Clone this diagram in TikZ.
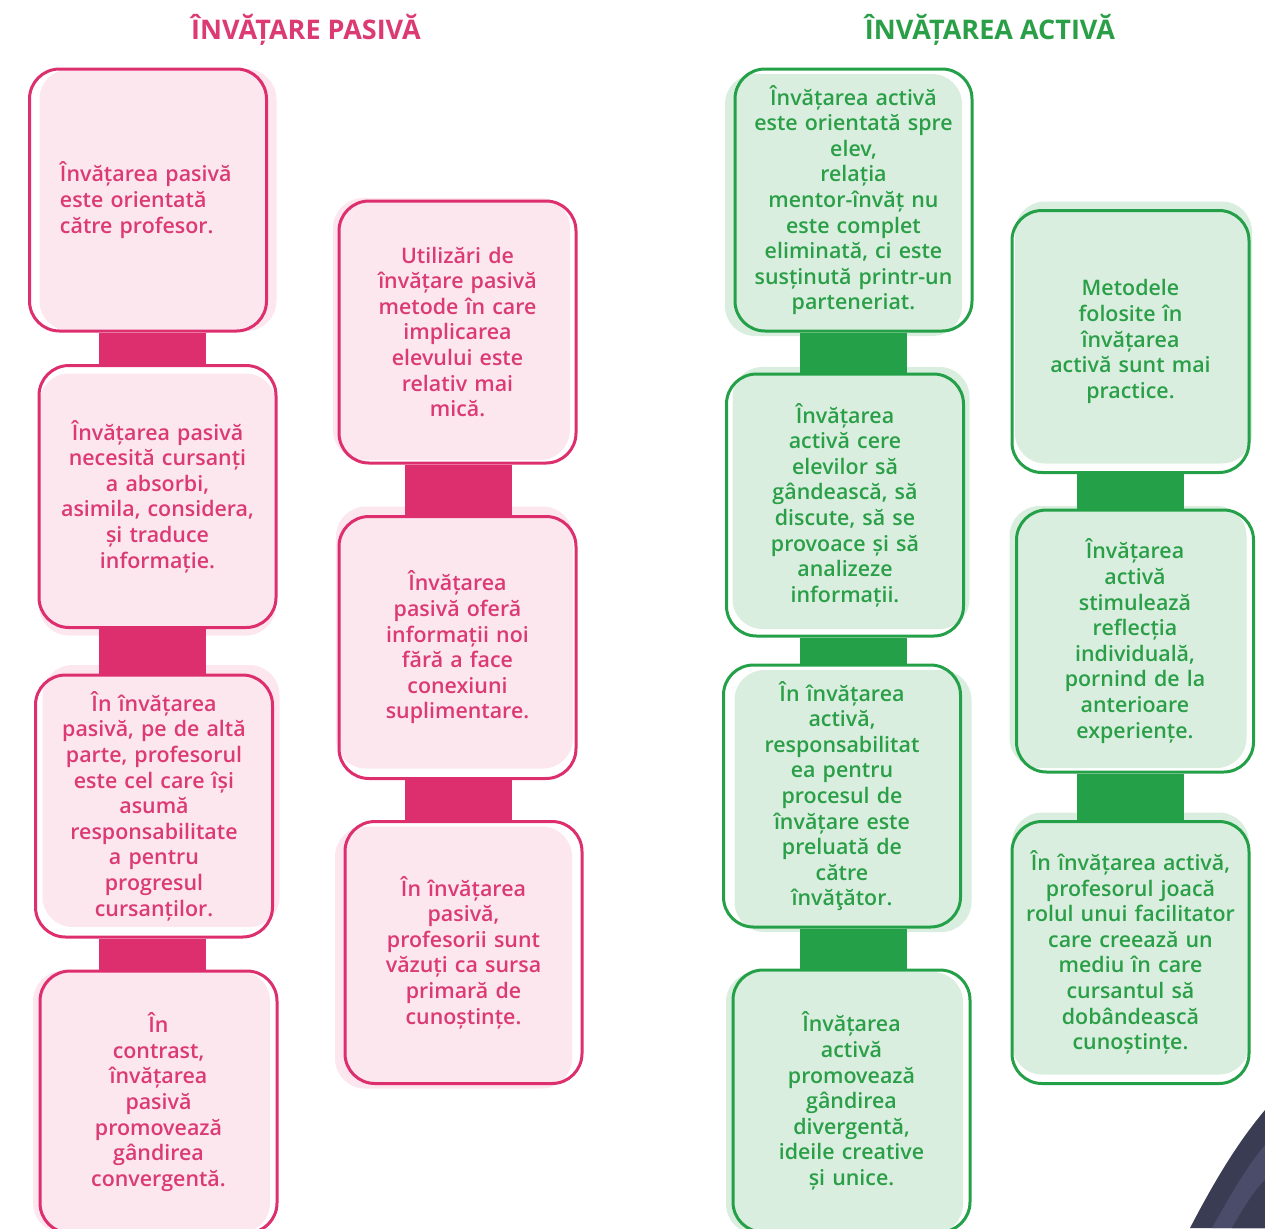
\documentclass[tikz,border=0pt]{standalone}
\usepackage{fontspec}
\setmainfont{Open Sans}[BoldFont={Open Sans Semibold}]
\newfontfamily\titlufont{Open Sans Bold}
\usetikzlibrary{shadows}
\definecolor{pinkline}{HTML}{DD2E6D}
\definecolor{pinkfill}{HTML}{FCE7EF}
\definecolor{pinktext}{HTML}{DC3A73}
\definecolor{greenline}{HTML}{24A148}
\definecolor{greenfill}{HTML}{DAEEDF}
\definecolor{greentext}{HTML}{2A9F47}
\definecolor{navy}{HTML}{3A3C54}
\definecolor{navylight}{HTML}{4A4C69}

\begin{document}
\begin{tikzpicture}[x=0.5pt, y=-0.5pt,
  box/.style={line width=1.5pt, rounded corners=15pt, minimum width=118.5pt,
    minimum height=131pt, inner xsep=2pt, text width=114pt, align=center,
    font=\fontsize{10.7}{12.8}\selectfont\bfseries},
  pasiv/.style 2 args={box, draw=pinkline, text=pinktext,
    drop shadow={shadow xshift=#1pt, shadow yshift=#2pt, fill=pinkfill, opacity=1}},
  activ/.style 2 args={box, draw=greenline, text=greentext,
    drop shadow={shadow xshift=#1pt, shadow yshift=#2pt, fill=greenfill, opacity=1}},
  pbar/.style={draw=pinkline, line width=53.5pt},
  abar/.style={draw=greenline, line width=53.5pt},
  title/.style={font=\fontsize{13.5}{16}\selectfont\titlufont}]
\useasboundingbox (0,0) rectangle (1265,1228);

% titluri
\node[title, text=pinktext] (tp) at (306,30) {ÎNVĂȚARE PASIVĂ};
\node[title, text=greentext] (ta) at (990,30) {ÎNVĂȚAREA ACTIVĂ};

% coloanele barelor
\coordinate (pcol1) at (152.5,0);
\coordinate (pcol2) at (458.5,0);
\coordinate (acol1) at (853.5,0);
\coordinate (acol2) at (1130.5,0);

% invatare pasiva
\node[pasiv={5}{0}, text width=88pt, align=left] (a1) at (148,200)
  {Învățarea pasivă\\este orientată\\către profesor.};
\node[pasiv={0}{-4}] (a2) at (157.5,496.5)
  {Învățarea pasivă\\necesită cursanți\\a absorbi,\\asimila, considera,\\și traduce\\informație.};
\node[pasiv={3.5}{5}] (a3) at (154,806)
  {În învățarea\\pasivă, pe de altă\\parte, profesorul\\este cel care își\\asumă\\responsabilitate\\a pentru\\progresul\\cursanților.};
\node[pasiv={-3.5}{0}] (a4) at (158.5,1102)
  {În\\contrast,\\învățarea\\pasivă\\promovează\\gândirea\\convergentă.};
\node[pasiv={-3}{1.5}] (b1) at (457.5,332)
  {Utilizări de\\învățare pasivă\\metode în care\\implicarea\\elevului este\\relativ mai\\mică.};
\node[pasiv={-1.5}{5}] (b2) at (457.5,647.5)
  {Învățarea\\pasivă oferă\\informații noi\\fără a face\\conexiuni\\suplimentare.};
\node[pasiv={-5}{-2.5}] (b3) at (463.5,952.5)
  {În învățarea\\pasivă,\\profesorii sunt\\văzuți ca sursa\\primară de\\cunoștințe.};

% invatare activa
\node[activ={-5}{-2.5}] (c1) at (853.5,200)
  {Învățarea activă\\este orientată spre\\elev,\\relația\\mentor-învăț nu\\este complet\\eliminată, ci este\\susținută printr-un\\parteneriat.};
\node[activ={3}{3.5}] (c2) at (845,505)
  {Învățarea\\activă cere\\elevilor să\\gândească, să\\discute, să se\\provoace și să\\analizeze\\informații.};
\node[activ={5.5}{-2.5}] (c3) at (842,796)
  {În învățarea\\activă,\\responsabilitat\\ea pentru\\procesul de\\învățare este\\preluată de\\către\\învăţător.};
\node[activ={-3.5}{-1}] (c4) at (851.5,1101)
  {Învățarea\\activă\\promovează\\gândirea\\divergentă,\\ideile creative\\și unice.};
\node[activ={1.5}{4.5}] (d1) at (1130.5,341.5)
  {Metodele\\folosite în\\învățarea\\activă sunt mai\\practice.};
\node[activ={-3.5}{2}] (d2) at (1135,641)
  {Învățarea\\activă\\stimulează\\reflecția\\individuală,\\pornind de la\\anterioare\\experiențe.};
\node[activ={0}{4.5}] (d3) at (1130.5,952.5)
  {În învățarea activă,\\profesorul joacă\\rolul unui facilitator\\care creează un\\mediu în care\\cursantul să\\dobândească\\cunoștințe.};

% bare de legatura
\draw[pbar] (a1.south -| pcol1) -- (a2.north -| pcol1);
\draw[pbar] (a2.south -| pcol1) -- (a3.north -| pcol1);
\draw[pbar] (a3.south -| pcol1) -- (a4.north -| pcol1);
\draw[pbar] (b1.south -| pcol2) -- (b2.north -| pcol2);
\draw[pbar] (b2.south -| pcol2) -- (b3.north -| pcol2);
\draw[abar] (c1.south -| acol1) -- (c2.north -| acol1);
\draw[abar] (c2.south -| acol1) -- (c3.north -| acol1);
\draw[abar] (c3.south -| acol1) -- (c4.north -| acol1);
\draw[abar] (d1.south -| acol2) -- (d2.north -| acol2);
\draw[abar] (d2.south -| acol2) -- (d3.north -| acol2);

% colt jos dreapta
\fill[navy] (1190,1228) .. controls (1215,1180) and (1238,1142) .. (1265,1110) -- (1265,1228) -- cycle;
\fill[navylight] (1212,1228) .. controls (1232,1192) and (1248,1165) .. (1265,1145) -- (1265,1228) -- cycle;
\fill[navy] (1232,1228) .. controls (1245,1205) and (1255,1190) .. (1265,1180) -- (1265,1228) -- cycle;
\end{tikzpicture}
\end{document}
